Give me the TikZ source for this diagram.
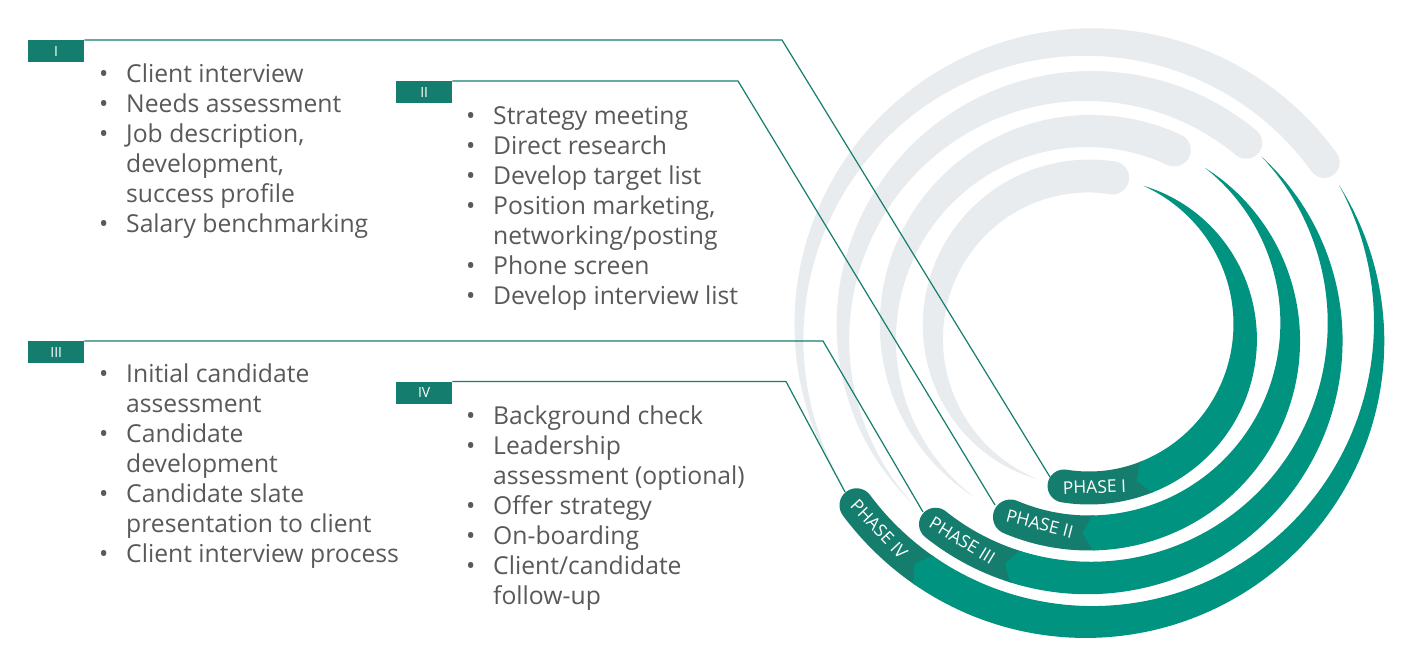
\documentclass[tikz,border=0pt]{standalone}
\usepackage{fontspec}
\setmainfont{Open Sans}
\definecolor{ringgray}{HTML}{E9ECEE}
\definecolor{brightgreen}{HTML}{00937F}
\definecolor{darkteal}{HTML}{147D6E}
\definecolor{txtgray}{HTML}{595959}
\newcommand\bulit[1]{\makebox[27.2pt][l]{•}#1}
\newcommand\contln[1]{\hspace*{27.2pt}#1}
\begin{document}
\begin{tikzpicture}[x=1pt,y=-1pt,
  tag/.style={fill=darkteal, text=white, minimum width=56pt, minimum height=22pt, inner sep=0pt, font=\fontsize{14}{14}\selectfont, anchor=north west},
  listtxt/.style={anchor=north west, inner sep=0pt, align=left, text=txtgray, font=\fontsize{24.7}{30}\selectfont},
  conn/.style={draw=darkteal, line width=1.2pt},
  phasetxt/.style={text=white, font=\fontsize{17.5}{18}\selectfont, inner sep=0pt}]
\fill[white] (0,0) rectangle (1408,660);
\useasboundingbox (0,0) rectangle (1408,660);
% gray arcs
\foreach \R/\gcap/\gtail/\Tg in {156/81.3/251/33, 201/64.9/235.4/33, 246/50.3/224.8/32, 290/35.8/213/31}{
  \fill[ringgray] plot[variable=\a, domain=\gtail:\gcap, samples=90]
    ({1089+(\R+0.5*\Tg*sin(90*(\gtail-(\a))/(\gtail-\gcap)))*cos(\a)},
     {332-(\R+0.5*\Tg*sin(90*(\gtail-(\a))/(\gtail-\gcap)))*sin(\a)})
   -- plot[variable=\p, domain=0:180, samples=25]
    ({1089+\R*cos(\gcap)+0.5*\Tg*cos(\gcap-\p)}, {332-\R*sin(\gcap)-0.5*\Tg*sin(\gcap-\p)})
   -- plot[variable=\a, domain=\gcap:\gtail, samples=90]
    ({1089+(\R-0.5*\Tg*sin(90*(\gtail-(\a))/(\gtail-\gcap)))*cos(\a)},
     {332-(\R-0.5*\Tg*sin(90*(\gtail-(\a))/(\gtail-\gcap)))*sin(\a)})
   -- cycle;
}
% tabs and green arcs
\foreach \R/\gs/\gc/\Tgr/\ge in {156/69.6/-68.6/33/-99.2, 201/54.8/-89/35/-113, 246/45.5/-107.6/33/-128.6, 290/30.5/-125/34/-143.3}{
  \fill[darkteal] plot[variable=\a, domain=\gc+0.5:\ge, samples=40]
    ({1089+(\R+0.5*\Tgr)*cos(\a)}, {332-(\R+0.5*\Tgr)*sin(\a)})
   -- plot[variable=\p, domain=0:180, samples=25]
    ({1089+\R*cos(\ge)+0.5*\Tgr*cos(\ge-\p)}, {332-\R*sin(\ge)-0.5*\Tgr*sin(\ge-\p)})
   -- plot[variable=\a, domain=\ge:\gc+0.5, samples=40]
    ({1089+(\R-0.5*\Tgr)*cos(\a)}, {332-(\R-0.5*\Tgr)*sin(\a)})
   -- cycle;
  \fill[brightgreen] plot[variable=\a, domain=\gs:\gc, samples=110]
    ({1089+(\R+0.5*\Tgr*sin(90*(\gs-(\a))/(\gs-(\gc))))*cos(\a)},
     {332-(\R+0.5*\Tgr*sin(90*(\gs-(\a))/(\gs-(\gc))))*sin(\a)})
   -- ({1089+\R*cos(\gc-573/\R)}, {332-\R*sin(\gc-573/\R)})
   -- plot[variable=\a, domain=\gc:\gs, samples=110]
    ({1089+(\R-0.5*\Tgr*sin(90*(\gs-(\a))/(\gs-(\gc))))*cos(\a)},
     {332-(\R-0.5*\Tgr*sin(90*(\gs-(\a))/(\gs-(\gc))))*sin(\a)})
   -- cycle;
}
% phase labels
\foreach \R/\ta/\lab/\nm in {155/272/PHASE I/1, 198/255.6/PHASE II/2, 244/238.7/PHASE III/3, 288/223.2/PHASE IV/4}{
  \node[phasetxt, rotate=\ta-270] (phase\nm) at ({1089+\R*cos(\ta)}, {332-\R*sin(\ta)}) {\lab};
}
% tags
\node[tag] (tagI) at (28,40) {I};
\node[tag] (tagII) at (396,81) {II};
\node[tag] (tagIII) at (28,341) {III};
\node[tag] (tagIV) at (396,381.5) {IV};
% connector points
\coordinate (cornerI) at (782,40);
\coordinate (cornerII) at (738,81);
\coordinate (cornerIII) at (823,341);
\coordinate (cornerIV) at (786,381.5);
\coordinate (endI) at (1050,477);
\coordinate (endII) at (995,505);
\coordinate (endIII) at (923,512);
\coordinate (endIV) at (845,492);
\draw[conn] (tagI.north east) -- (cornerI) -- (endI);
\draw[conn] (tagII.north east) -- (cornerII) -- (endII);
\draw[conn] (tagIII.north east) -- (cornerIII) -- (endIII);
\draw[conn] (tagIV.north east) -- (cornerIV) -- (endIV);
% lists
\node[listtxt] (listI) at (98.8,60.7) {\rule{0pt}{22pt}\bulit{Client interview}\\\bulit{Needs assessment}\\\bulit{Job description,}\\\contln{development,}\\\contln{success profile}\\\bulit{Salary benchmarking}};
\node[listtxt] (listII) at (465.8,102.5) {\rule{0pt}{22pt}\bulit{Strategy meeting}\\\bulit{Direct research}\\\bulit{Develop target list}\\\bulit{Position marketing,}\\\contln{networking/posting}\\\bulit{Phone screen}\\\bulit{Develop interview list}};
\node[listtxt] (listIII) at (98.8,360.5) {\rule{0pt}{22pt}\bulit{Initial candidate}\\\contln{assessment}\\\bulit{Candidate}\\\contln{development}\\\bulit{Candidate slate}\\\contln{presentation to client}\\\bulit{Client interview process}};
\node[listtxt] (listIV) at (465.8,402.5) {\rule{0pt}{22pt}\bulit{Background check}\\\bulit{Leadership}\\\contln{assessment (optional)}\\\bulit{Offer strategy}\\\bulit{On-boarding}\\\bulit{Client/candidate}\\\contln{follow-up}};
\end{tikzpicture}
\end{document}
